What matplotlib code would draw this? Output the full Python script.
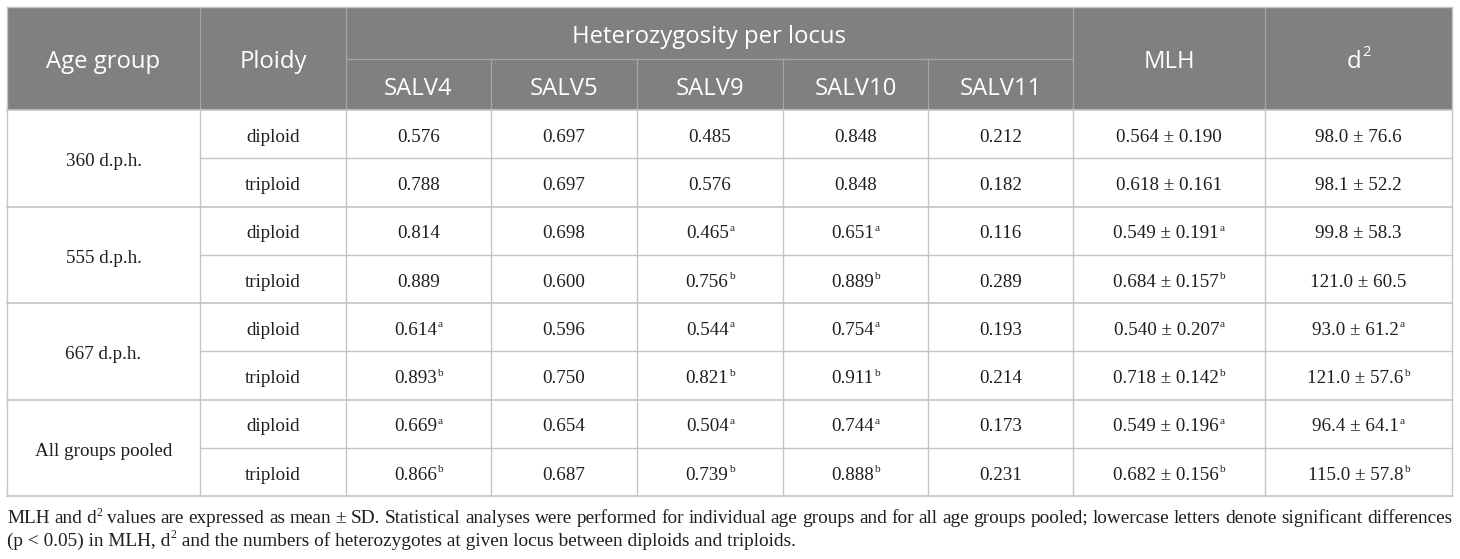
import matplotlib
matplotlib.use("Agg")
import matplotlib.pyplot as plt
from matplotlib.patches import Rectangle

# ---------------- data ----------------
age_groups = ["360 d.p.h.", "555 d.p.h.", "667 d.p.h.", "All groups pooled"]
ploidy = ["diploid", "triploid"]
loci = ["SALV4", "SALV5", "SALV9", "SALV10", "SALV11"]

# heterozygosity per locus: (value, superscript) rows in order diploid/triploid per age group
salv4 = [("0.576", ""), ("0.788", ""), ("0.814", ""), ("0.889", ""),
         ("0.614", "a"), ("0.893", "b"), ("0.669", "a"), ("0.866", "b")]
salv5 = [("0.697", ""), ("0.697", ""), ("0.698", ""), ("0.600", ""),
         ("0.596", ""), ("0.750", ""), ("0.654", ""), ("0.687", "")]
salv9 = [("0.485", ""), ("0.576", ""), ("0.465", "a"), ("0.756", "b"),
         ("0.544", "a"), ("0.821", "b"), ("0.504", "a"), ("0.739", "b")]
salv10 = [("0.848", ""), ("0.848", ""), ("0.651", "a"), ("0.889", "b"),
          ("0.754", "a"), ("0.911", "b"), ("0.744", "a"), ("0.888", "b")]
salv11 = [("0.212", ""), ("0.182", ""), ("0.116", ""), ("0.289", ""),
          ("0.193", ""), ("0.214", ""), ("0.173", ""), ("0.231", "")]
mlh = [("0.564 ± 0.190", ""), ("0.618 ± 0.161", ""), ("0.549 ± 0.191", "a"),
       ("0.684 ± 0.157", "b"), ("0.540 ± 0.207", "a"), ("0.718 ± 0.142", "b"),
       ("0.549 ± 0.196", "a"), ("0.682 ± 0.156", "b")]
d2 = [("98.0 ± 76.6", ""), ("98.1 ± 52.2", ""), ("99.8 ± 58.3", ""),
      ("121.0 ± 60.5", ""), ("93.0 ± 61.2", "a"), ("121.0 ± 57.6", "b"),
      ("96.4 ± 64.1", "a"), ("115.0 ± 57.8", "b")]

header_age = "Age group"
header_ploidy = "Ploidy"
header_het = "Heterozygosity per locus"
header_mlh = "MLH"
header_d2 = ("d", "2")

footnote1 = [("MLH", ""), ("and", ""), ("d", "2"), ("values", ""), ("are", ""), ("expressed", ""),
             ("as", ""), ("mean", ""), ("±", ""), ("SD.", ""), ("Statistical", ""), ("analyses", ""),
             ("were", ""), ("performed", ""), ("for", ""), ("individual", ""), ("age", ""),
             ("groups", ""), ("and", ""), ("for", ""), ("all", ""), ("age", ""), ("groups", ""),
             ("pooled;", ""), ("lowercase", ""), ("letters", ""), ("denote", ""),
             ("significant", ""), ("differences", "")]
footnote2 = [("(p < 0.05) in MLH, d", "2"), (" and the numbers of heterozygotes at given locus between diploids and triploids.", "")]

# ---------------- layout ----------------
W, H = 1460, 559
fig = plt.figure(figsize=(W / 100, H / 100), dpi=100)
ax = fig.add_axes([0, 0, 1, 1])
ax.set_xlim(0, W)
ax.set_ylim(H, 0)
ax.axis("off")

xb = [7, 200, 346, 491, 637, 783, 928, 1073, 1265, 1452]
y_top, y_mid, y_head = 7, 59, 110
row_h = 48.25
y_rows = [y_head + i * row_h for i in range(9)]
y_bot = y_rows[-1]

HEAD_BG = "#808080"
HEAD_LINE = "#a6a6a6"
GRID = "#c4c4c4"
TXT = "#1e1e1e"
SERIF = "Liberation Serif"
SANS = "Open Sans"

fig.canvas.draw()
renderer = fig.canvas.get_renderer()


def width_of(t):
    bb = t.get_window_extent(renderer=renderer)
    return bb.width


def rich(xc, yb, main, sup, size, family, color, ha="center", sup_scale=0.62, sup_dy=7):
    t = ax.text(0, yb, main, fontsize=size, family=family, color=color, ha="left", va="baseline")
    wm = width_of(t)
    ws = 0
    ts = None
    if sup:
        ts = ax.text(0, yb - sup_dy, sup, fontsize=size * sup_scale, family=family,
                     color=color, ha="left", va="baseline")
        ws = width_of(ts) + 0.5
    total = wm + ws
    x0 = xc - total / 2 if ha == "center" else xc
    t.set_x(x0)
    if ts is not None:
        ts.set_x(x0 + wm + 0.5)
    return total


# header background
ax.add_patch(Rectangle((xb[0], y_top), xb[-1] - xb[0], y_head - y_top, facecolor=HEAD_BG,
                       edgecolor="none", zorder=0))
# header lines
for x in [xb[1], xb[2], xb[7], xb[8]]:
    ax.plot([x, x], [y_top, y_head], color=HEAD_LINE, lw=0.9)
for x in xb[3:7]:
    ax.plot([x, x], [y_mid, y_head], color=HEAD_LINE, lw=0.9)
ax.plot([xb[2], xb[7]], [y_mid, y_mid], color=HEAD_LINE, lw=0.9)

# outer header border
ax.plot([xb[0], xb[-1]], [y_top, y_top], color=GRID, lw=1.0)
for x in [xb[0], xb[-1]]:
    ax.plot([x, x], [y_top, y_bot], color=GRID, lw=1.0)

# body grid
for x in xb[1:-1]:
    ax.plot([x, x], [y_head, y_bot], color=GRID, lw=1.0)
for i, y in enumerate(y_rows):
    if i % 2 == 0:
        ax.plot([xb[0], xb[-1]], [y, y], color=GRID, lw=1.2)
    else:
        ax.plot([xb[1], xb[-1]], [y, y], color=GRID, lw=1.0)

# header text (baseline positioned)
HS = 17.2
hb_full, hb_top, hb_sub = 68.5, 43, 95
ax.text((xb[0] + xb[1]) / 2, hb_full, header_age, fontsize=HS, family=SANS,
        color="white", ha="center", va="baseline")
ax.text((xb[1] + xb[2]) / 2, hb_full, header_ploidy, fontsize=HS, family=SANS,
        color="white", ha="center", va="baseline")
ax.text((xb[2] + xb[7]) / 2, hb_top, header_het, fontsize=HS, family=SANS,
        color="white", ha="center", va="baseline")
for i, name in enumerate(loci):
    ax.text((xb[2 + i] + xb[3 + i]) / 2, hb_sub, name, fontsize=HS, family=SANS,
            color="white", ha="center", va="baseline")
ax.text((xb[7] + xb[8]) / 2, hb_full, header_mlh, fontsize=HS, family=SANS,
        color="white", ha="center", va="baseline")
rich((xb[8] + xb[9]) / 2, hb_full, header_d2[0], header_d2[1], HS, SANS,
     "white", sup_scale=0.62, sup_dy=13)

# body text
BS = 13.7
off = 7.8
columns = [salv4, salv5, salv9, salv10, salv11, mlh, d2]
for g, name in enumerate(age_groups):
    yb = y_rows[2 * g + 1] + off
    ax.text((xb[0] + xb[1]) / 2, yb, name, fontsize=BS, family=SERIF, color=TXT,
            ha="center", va="baseline")
for r in range(8):
    yb = (y_rows[r] + y_rows[r + 1]) / 2 + off
    ax.text((xb[1] + xb[2]) / 2, yb, ploidy[r % 2], fontsize=BS, family=SERIF, color=TXT,
            ha="center", va="baseline")
    for c, col in enumerate(columns):
        val, sup = col[r]
        rich((xb[2 + c] + xb[3 + c]) / 2, yb, val, sup, BS, SERIF, TXT, sup_scale=0.6, sup_dy=7.5)

# footnote line 1 (justified)
FS = 13.9
y1, y2 = 523, 546
items = []
wsum = 0
for word, sup in footnote1:
    t = ax.text(0, y1, word, fontsize=FS, family=SERIF, color=TXT, ha="left", va="baseline")
    w = width_of(t)
    ts = None
    ws = 0
    if sup:
        ts = ax.text(0, y1 - 7.5, sup, fontsize=FS * 0.6, family=SERIF, color=TXT, ha="left", va="baseline")
        ws = width_of(ts) + 0.5
    items.append((t, ts, w))
    wsum += w + ws
gap = max(2.0, (xb[-1] - xb[0] - wsum) / (len(items) - 1))
x = xb[0]
for t, ts, w in items:
    t.set_x(x)
    x += w
    if ts is not None:
        ts.set_x(x + 0.5)
        x += width_of(ts) + 0.5
    x += gap

# footnote line 2
x = xb[0]
for part, sup in footnote2:
    t = ax.text(x, y2, part, fontsize=FS, family=SERIF, color=TXT, ha="left", va="baseline")
    x += width_of(t)
    if sup:
        ts = ax.text(x + 0.5, y2 - 7.5, sup, fontsize=FS * 0.6, family=SERIF, color=TXT,
                     ha="left", va="baseline")
        x += width_of(ts) + 0.5

fig.savefig("out.png", dpi=100, facecolor="white")
